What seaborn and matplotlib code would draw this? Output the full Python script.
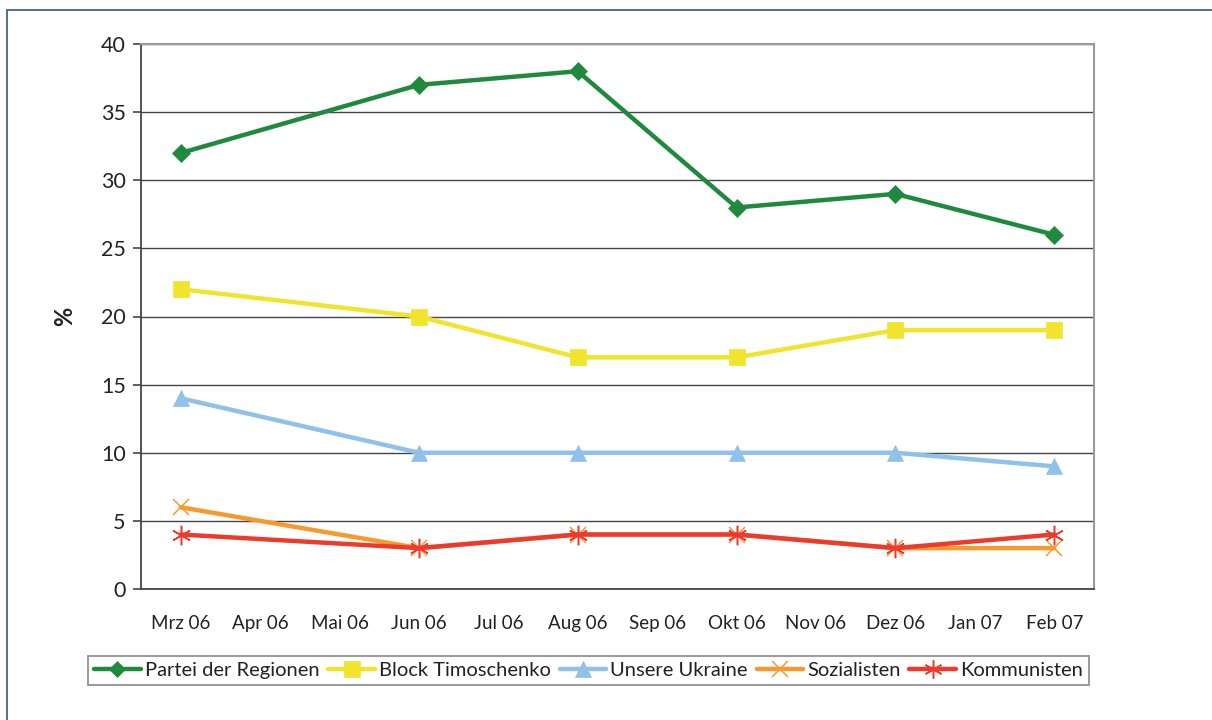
import matplotlib
matplotlib.use("Agg")
import matplotlib.pyplot as plt
import seaborn as sns
import numpy as np
import pandas as pd

months = ["Mrz 06", "Apr 06", "Mai 06", "Jun 06", "Jul 06", "Aug 06",
          "Sep 06", "Okt 06", "Nov 06", "Dez 06", "Jan 07", "Feb 07"]
survey_months = ["Mrz 06", "Jun 06", "Aug 06", "Okt 06", "Dez 06", "Feb 07"]

partei_der_regionen = [32, 37, 38, 28, 29, 26]
block_timoschenko = [22, 20, 17, 17, 19, 19]
unsere_ukraine = [14, 10, 10, 10, 10, 9]
sozialisten = [6, 3, 4, 4, 3, 3]
kommunisten = [4, 3, 4, 4, 3, 4]

series_names = ["Partei der Regionen", "Block Timoschenko", "Unsere Ukraine",
                "Sozialisten", "Kommunisten"]
series_values = [partei_der_regionen, block_timoschenko, unsere_ukraine,
                 sozialisten, kommunisten]

colors = ["#1f8a3e", "#f0e52c", "#8fc1ea", "#f7992f", "#ee3a2d"]
markers = ["D", "s", "^", "x", (6, 2, 0)]
msizes = [9, 12, 12, 12, 14]
medges = [0.5, 0.5, 0.5, 1.1, 1.1]

sns.set_theme(style="white")
plt.rcParams["font.family"] = ["Lato", "DejaVu Sans"]

fig = plt.figure(figsize=(12.12, 7.2), dpi=100)
ax = fig.add_axes([141 / 1212, 1 - 589 / 720, (1094 - 141) / 1212, (589 - 44) / 720])

xpos = [months.index(m) for m in survey_months]
rows = []
for name, vals in zip(series_names, series_values):
    for m, x, v in zip(survey_months, xpos, vals):
        rows.append({"serie": name, "x": x, "wert": v})
df = pd.DataFrame(rows)

for i, name in enumerate(series_names):
    sub = df[df["serie"] == name]
    sns.lineplot(data=sub, x="x", y="wert", ax=ax, color=colors[i], lw=3.2,
                 marker=markers[i], markersize=msizes[i],
                 markeredgecolor=colors[i], markerfacecolor=colors[i],
                 markeredgewidth=medges[i],
                 label=name, legend=False, zorder=3 + i)

ax.set_xlim(-0.5, 11.5)
ax.set_ylim(0, 40)
ax.set_yticks(np.arange(0, 41, 5))
ax.set_yticklabels([str(v) for v in range(0, 41, 5)], fontsize=15.5, color="#222222")
ax.set_xticks(range(12))
ax.set_xticklabels(months, fontsize=13.5, color="#222222")
ax.set_xticks(np.arange(-0.5, 12, 1), minor=True)
ax.tick_params(axis="x", which="major", length=0, pad=19)
ax.tick_params(axis="x", which="minor", length=6, width=1.2, color="#444444", direction="out")
ax.tick_params(axis="y", which="major", length=6, width=1.2, color="#444444", direction="out", left=True, pad=5)
ax.yaxis.grid(True, color="#444444", lw=1)
ax.xaxis.grid(False)
ax.set_axisbelow(True)
for side in ["left", "bottom"]:
    ax.spines[side].set_color("#444444")
    ax.spines[side].set_linewidth(1.3)
for side in ["top", "right"]:
    ax.spines[side].set_color("#9a9a9a")
    ax.spines[side].set_linewidth(1.5)
ax.set_xlabel("")
ax.set_ylabel("%", fontsize=17, fontweight="bold", color="#222222", labelpad=18)

handles = [plt.Line2D([], [], color=colors[i], lw=3.2, marker=markers[i],
                      markersize=msizes[i] - 1, markerfacecolor=colors[i],
                      markeredgecolor=colors[i], markeredgewidth=medges[i])
           for i in range(5)]
leg = fig.legend(handles, series_names, loc="center", ncol=5,
                 bbox_to_anchor=(588.5 / 1212, 1 - 670.5 / 720),
                 fontsize=14.5, frameon=True, fancybox=False, handlelength=2.3,
                 handletextpad=0.2, columnspacing=0.45, borderpad=0.3,
                 borderaxespad=0)
leg.get_frame().set_edgecolor("#777777")
leg.get_frame().set_linewidth(1.3)
for t in leg.get_texts():
    t.set_color("#222222")

# outer frame
fig.add_artist(plt.Line2D([7 / 1212, 7 / 1212], [0, 1 - 10 / 720],
                          color="#3d6792", lw=1.3, transform=fig.transFigure))
fig.add_artist(plt.Line2D([7 / 1212, 1], [1 - 10 / 720, 1 - 10 / 720],
                          color="#3d6792", lw=1.3, transform=fig.transFigure))

fig.savefig("out.png", dpi=100)
